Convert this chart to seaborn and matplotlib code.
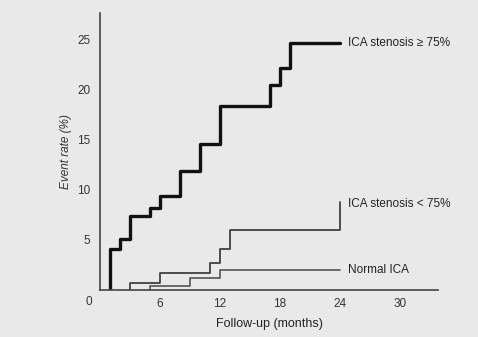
import matplotlib
matplotlib.use("Agg")
import matplotlib.pyplot as plt
import seaborn as sns
import pandas as pd

# Data (months, event rate %)
high_t = [1, 1, 2, 3, 5, 6, 8, 10, 12, 17, 18, 19, 24]
high_r = [0, 4.1, 5.1, 7.4, 8.2, 9.4, 11.9, 14.5, 18.3, 20.4, 22.1, 24.6, 24.6]
low_t = [3, 3, 6, 11, 12, 13, 24]
low_r = [0, 0.7, 1.65, 2.7, 4.1, 6.0, 8.8]
norm_t = [5, 5, 9, 12, 24]
norm_r = [0, 0.35, 1.15, 2.0, 2.0]
x_ticks = [6, 12, 18, 24, 30]
y_ticks = [5, 10, 15, 20, 25]
labels = ["ICA stenosis \u2265 75%", "ICA stenosis < 75%", "Normal ICA"]

sns.set_style("white")
plt.rcParams['font.family'] = ['Liberation Sans', 'DejaVu Sans']

bg = "#e9e9e9"
fig = plt.figure(figsize=(4.78, 3.37), dpi=100, facecolor=bg)
ax = fig.add_axes([100/478, 47/337, 338/478, 277/337], facecolor=bg)

df_high = pd.DataFrame({"t": high_t, "r": high_r})
df_low = pd.DataFrame({"t": low_t, "r": low_r})
df_norm = pd.DataFrame({"t": norm_t, "r": norm_r})

sns.lineplot(data=df_norm, x="t", y="r", ax=ax, drawstyle="steps-post",
             color="#555555", linewidth=1.2, sort=False, estimator=None)
sns.lineplot(data=df_low, x="t", y="r", ax=ax, drawstyle="steps-post",
             color="#404040", linewidth=1.3, sort=False, estimator=None)
sns.lineplot(data=df_high, x="t", y="r", ax=ax, drawstyle="steps-post",
             color="#111111", linewidth=2.4, sort=False, estimator=None)

ax.set_xlim(0, 33.8)
ax.set_ylim(0, 27.6)
ax.set_xticks(x_ticks)
ax.set_yticks(y_ticks)
ax.tick_params(axis="x", direction="inout", length=5, width=0.8, colors="#555555",
               labelcolor="#333333", labelsize=8.5, pad=3)
ax.tick_params(axis="y", direction="out", length=3, width=0.8, colors="#777777",
               labelcolor="#333333", labelsize=8.5, pad=4)
for s in ["top", "right"]:
    ax.spines[s].set_visible(False)
for s in ["left", "bottom"]:
    ax.spines[s].set_color("#444444")
    ax.spines[s].set_linewidth(1.2)

ax.text(-1.1, -1.2, "0", ha="center", va="center", fontsize=8.5, color="#333333")
ax.set_xlabel("Follow-up (months)", fontsize=9, color="#222222", labelpad=6)
ax.set_ylabel("Event rate (%)", fontsize=8.5, color="#333333", style="italic", labelpad=3.5)

ax.text(24.8, 24.6, labels[0], ha="left", va="center", fontsize=8.5, color="#222222")
ax.text(24.8, 8.6, labels[1], ha="left", va="center", fontsize=8.5, color="#222222")
ax.text(24.8, 2.0, labels[2], ha="left", va="center", fontsize=8.5, color="#222222")

fig.savefig("out.png", dpi=100, facecolor=bg)
